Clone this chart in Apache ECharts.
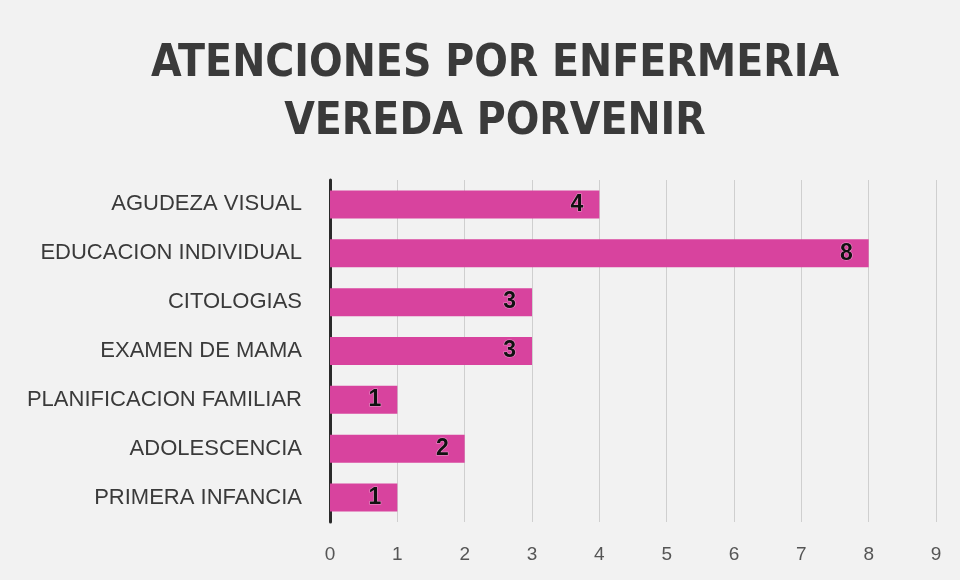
<!DOCTYPE html>
<html>
<head>
<meta charset="utf-8">
<script src="https://cdn.jsdelivr.net/npm/echarts@6/dist/echarts.min.js"></script>
<style>
  html, body { margin: 0; padding: 0; }
  #box { width: 960px; height: 580px; }
</style>
</head>
<body>
<div id="box"></div>
<script>
// categories from top to bottom as in the picture
var categories = ['AGUDEZA VISUAL', 'EDUCACION INDIVIDUAL', 'CITOLOGIAS', 'EXAMEN DE MAMA',
  'PLANIFICACION FAMILIAR', 'ADOLESCENCIA', 'PRIMERA INFANCIA'];
var values = [4, 8, 3, 3, 1, 2, 1];
var titleLines = ['ATENCIONES POR ENFERMERIA', 'VEREDA PORVENIR'];

var myChart = echarts.init(document.getElementById('box'));
var option = {
  backgroundColor: '#f2f2f2',
  title: {
    text: titleLines.join('\n'),
    left: 490,
    textAlign: 'center',
    top: 31,
    textStyle: {
      fontFamily: '"DejaVu Sans Condensed", sans-serif',
      fontWeight: 'bold',
      fontSize: 44,
      lineHeight: 58,
      color: '#3a3a3a'
    }
  },
  grid: {
    left: 330,
    right: 24,
    top: 180,
    bottom: 58,
    containLabel: false
  },
  xAxis: {
    type: 'value',
    min: 0,
    max: 9,
    interval: 1,
    axisLine: { show: false },
    axisTick: { show: false },
    axisLabel: {
      margin: 23,
      color: '#555',
      fontSize: 19,
      fontFamily: '"Liberation Sans", Arial, sans-serif'
    },
    splitLine: { lineStyle: { color: '#cfcfcf', width: 1 } }
  },
  yAxis: {
    type: 'category',
    inverse: true,
    data: categories,
    axisLine: { show: true, lineStyle: { color: '#2a2a2a', width: 3 } },
    axisTick: { show: false },
    axisLabel: {
      margin: 28,
      color: '#3a3a3a',
      fontSize: 22,
      fontFamily: '"Liberation Sans", Arial, sans-serif'
    }
  },
  series: [{
    type: 'bar',
    data: values,
    barWidth: 28,
    itemStyle: { color: '#d8439e' },
    label: {
      show: true,
      position: 'insideRight',
      distance: 16,
      color: '#111',
      fontSize: 23,
      fontWeight: 'bold',
      fontFamily: '"Liberation Sans", Arial, sans-serif',
      textBorderColor: 'rgba(255,255,255,0.45)',
      textBorderWidth: 1
    }
  }]
};
myChart.setOption(option);
</script>
</body>
</html>
